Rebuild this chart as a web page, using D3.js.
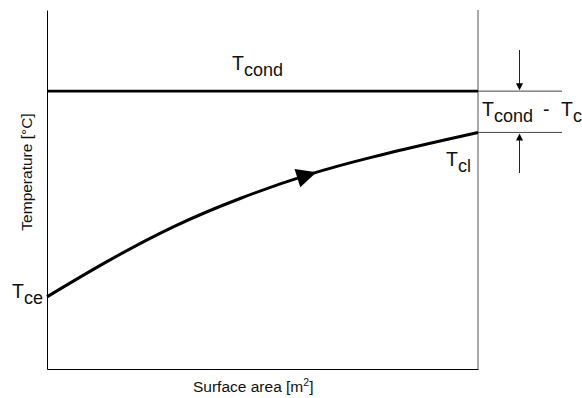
<!DOCTYPE html>
<html>
<head>
<meta charset="utf-8">
<script src="https://cdn.jsdelivr.net/npm/d3@7"></script>
<style>
  body { margin: 0; background: #fff; }
  text { font-family: Arial, "Liberation Sans", sans-serif; fill: #111; }
</style>
</head>
<body>
<svg width="582" height="398"></svg>
<script>
// surface area steps (arbitrary units) and coolant temperature
const areaSteps = [0, 1.39, 2.93, 4.48, 6.03, 7.57, 9.12, 10];
const coolantTemp = [20.1, 29.9, 39.6, 47.5, 54.0, 59.1, 63.5, 65.9];
const condTemp = [77.4];
const axisLabels = ['Surface area [m', 'Temperature [°C]'];

const width = 582;
const height = 398;
const margin = { top: 10, right: 104, bottom: 29, left: 47 };

const svg = d3.select('svg');

const x = d3.scaleLinear()
  .domain([0, 10])
  .range([margin.left, width - margin.right]);

const y = d3.scaleLinear()
  .domain([0, 100])
  .range([height - margin.bottom, margin.top]);

const points = areaSteps.map((a, i) => ({ area: a, temp: coolantTemp[i] }));

// axes without ticks
svg.append('g')
  .attr('transform', `translate(${margin.left},0)`)
  .call(d3.axisLeft(y).tickValues([]).tickSizeOuter(0))
  .select('.domain').attr('stroke', '#000');

svg.append('g')
  .attr('transform', `translate(0,${height - margin.bottom})`)
  .call(d3.axisBottom(x).tickValues([]).tickSizeOuter(0))
  .select('.domain').attr('stroke', '#000');

// right boundary
svg.append('line')
  .attr('x1', x(10)).attr('x2', x(10))
  .attr('y1', y(100)).attr('y2', y(0))
  .attr('stroke', '#555')
  .attr('stroke-width', 1);

// condensing temperature
svg.append('line')
  .attr('x1', x(0)).attr('x2', x(10))
  .attr('y1', y(condTemp[0])).attr('y2', y(condTemp[0]))
  .attr('stroke', '#000')
  .attr('stroke-width', 2.6);

// coolant curve
const line = d3.line()
  .x(d => x(d.area))
  .y(d => y(d.temp))
  .curve(d3.curveNatural);

const curve = svg.append('path')
  .datum(points)
  .attr('d', line)
  .attr('fill', 'none')
  .attr('stroke', '#000')
  .attr('stroke-width', 3);

// arrow head on the curve
const node = curve.node();
const total = node.getTotalLength();
let lo = 0, hi = total;
for (let i = 0; i < 40; i++) {
  const mid = (lo + hi) / 2;
  if (node.getPointAtLength(mid).x < 306) lo = mid; else hi = mid;
}
const c = node.getPointAtLength(lo);
const p1 = node.getPointAtLength(lo - 3);
const p2 = node.getPointAtLength(lo + 3);
const ang = Math.atan2(p2.y - p1.y, p2.x - p1.x) * 180 / Math.PI;
svg.append('path')
  .attr('d', 'M11,0 L-9,-9.5 L-9,9.5 Z')
  .attr('transform', `translate(${c.x},${c.y}) rotate(${ang})`)
  .attr('fill', '#000');

// difference markers on the right
const yc = y(condTemp[0]);
const yl = y(coolantTemp[coolantTemp.length - 1]);
[yc, yl].forEach(v => {
  svg.append('line')
    .attr('x1', x(10)).attr('x2', 562)
    .attr('y1', v).attr('y2', v)
    .attr('stroke', '#444')
    .attr('stroke-width', 1);
});

const ax = 519.5;
svg.append('line')
  .attr('x1', ax).attr('x2', ax)
  .attr('y1', 50).attr('y2', yc - 6)
  .attr('stroke', '#222').attr('stroke-width', 1);
svg.append('path')
  .attr('d', `M${ax - 3.5},${yc - 8} L${ax + 3.5},${yc - 8} L${ax},${yc - 1} Z`)
  .attr('fill', '#000');

svg.append('line')
  .attr('x1', ax).attr('x2', ax)
  .attr('y1', 173).attr('y2', yl + 6)
  .attr('stroke', '#222').attr('stroke-width', 1);
svg.append('path')
  .attr('d', `M${ax - 3.5},${yl + 8} L${ax + 3.5},${yl + 8} L${ax},${yl + 1} Z`)
  .attr('fill', '#000');

// labels
function subLabel(px, py, main, sub) {
  const t = svg.append('text')
    .attr('x', px).attr('y', py);
  t.append('tspan').style('font-size', '19.5px').text(main);
  t.append('tspan').attr('dy', 6).style('font-size', '18px').text(sub);
  return t;
}

subLabel(232, 70, 'T', 'cond');
subLabel(446, 166, 'T', 'cl');
subLabel(12, 298, 'T', 'ce');

subLabel(482, 116, 'T', 'cond');
svg.append('text')
  .attr('x', 543).attr('y', 116)
  .style('font-size', '19.5px')
  .text('-');
subLabel(561, 116, 'T', 'c');

// axis titles
const xt = svg.append('text')
  .attr('x', 193).attr('y', 392)
  .style('font-size', '15.5px');
xt.append('tspan').text(axisLabels[0]);
xt.append('tspan').attr('dy', -6).style('font-size', '10.5px').text('2');
xt.append('tspan').attr('dy', 6).text(']');

svg.append('text')
  .attr('transform', 'translate(32,172) rotate(-90)')
  .attr('text-anchor', 'middle')
  .style('font-size', '15.5px')
  .text(axisLabels[1]);
</script>
</body>
</html>
